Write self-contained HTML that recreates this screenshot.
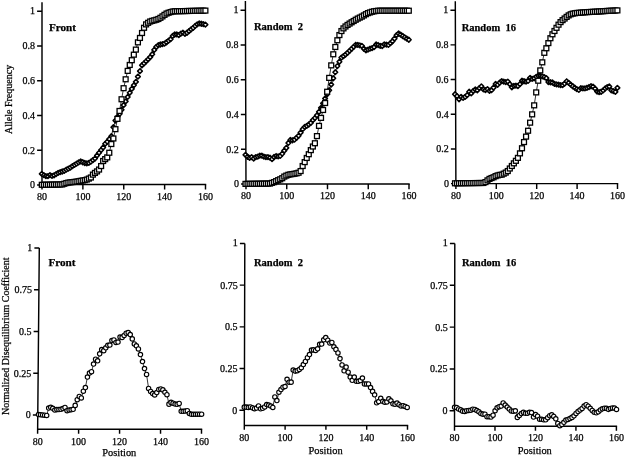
<!DOCTYPE html><html><head><meta charset="utf-8"><style>html,body{margin:0;padding:0;background:#fff;}svg{display:block;filter:grayscale(1);}text{font-family:"Liberation Serif",serif;fill:#000;stroke:#000;stroke-width:0.25px;}.t{font-size:10px;}.b{font-size:10.5px;font-weight:bold;}.p{font-size:10.4px;}</style></head><body>
<svg width="626" height="457" viewBox="0 0 626 457">
<g stroke="#000" stroke-width="1.45" fill="none" stroke-linecap="butt">
<path d="M42 2.2L42 189.6M42 184.5H206.2"/>
<path d="M37.1 185H42M37.1 150.26H42M37.1 115.52H42M37.1 80.78H42M37.1 46.04H42M37.1 11.3H42M82.88 184.5V189.6M123.75 184.5V189.6M164.62 184.5V189.6M205.5 184.5V189.6"/></g>
<text class="t" x="35" y="188.4" text-anchor="end">0</text>
<text class="t" x="35" y="153.66" text-anchor="end">0.2</text>
<text class="t" x="35" y="118.92" text-anchor="end">0.4</text>
<text class="t" x="35" y="84.18" text-anchor="end">0.6</text>
<text class="t" x="35" y="49.44" text-anchor="end">0.8</text>
<text class="t" x="35" y="13.9" text-anchor="end">1</text>
<text class="t" x="42" y="199.5" text-anchor="middle">80</text>
<text class="t" x="82.88" y="199.5" text-anchor="middle">100</text>
<text class="t" x="123.75" y="199.5" text-anchor="middle">120</text>
<text class="t" x="164.62" y="199.5" text-anchor="middle">140</text>
<text class="t" x="205.5" y="199.5" text-anchor="middle">160</text>
<text class="b" x="48.9" y="30.7" style="font-size:11.2px">Front</text>
<path fill="none" stroke="#000" stroke-width="0.8" d="M41.8 173.87 43.84 175.2 45.89 176.17 47.93 176.2 49.98 175.08 52.02 175.88 54.07 175.28 56.12 174.07 58.16 172.83 60.2 172.18 62.25 171.52 64.3 170.8 66.34 169.6 68.38 168.66 70.43 167.56 72.47 166.12 74.52 164.91 76.56 163.68 78.61 162.46 80.66 161.46 82.7 162.26 84.75 163.01 86.79 163.3 88.84 162.83 90.88 161.71 92.93 160.16 94.97 158.56 97.02 155.48 99.06 152.8 101.11 150.03 103.15 147.48 105.19 143.82 107.24 141.69 109.29 139.17 111.33 136.22 113.38 127.22 115.42 120.54 117.47 116.82 119.51 113.99 121.56 109.74 123.6 105.11 125.65 101.35 127.69 96.94 129.74 92.79 131.78 88.87 133.82 85.32 135.87 81.86 137.92 76.59 139.96 71.14 142 65.26 144.05 63.39 146.09 61.31 148.14 59.29 150.19 57.15 152.23 54.24 154.28 49.9 156.32 46.87 158.37 45.19 160.41 44.49 162.46 44.2 164.5 43.58 166.55 42.27 168.59 40.7 170.63 39.21 172.68 35.94 174.73 34.5 176.77 34.46 178.81 35.1 180.86 33.64 182.91 32.69 184.95 33.81 187 32.75 189.04 31.08 191.09 29.37 193.13 27.88 195.18 25.94 197.22 24.31 199.27 23.44 201.31 23.77 203.36 24.16 205.4 24.66"/>
<g fill="#fff" stroke="#000" stroke-width="1.55" stroke-linejoin="round"><path d="M41.8 171.52l2.35 2.35-2.35 2.35-2.35-2.35z"/><path d="M43.84 172.85l2.35 2.35-2.35 2.35-2.35-2.35z"/><path d="M45.89 173.82l2.35 2.35-2.35 2.35-2.35-2.35z"/><path d="M47.93 173.85l2.35 2.35-2.35 2.35-2.35-2.35z"/><path d="M49.98 172.73l2.35 2.35-2.35 2.35-2.35-2.35z"/><path d="M52.02 173.53l2.35 2.35-2.35 2.35-2.35-2.35z"/><path d="M54.07 172.93l2.35 2.35-2.35 2.35-2.35-2.35z"/><path d="M56.12 171.72l2.35 2.35-2.35 2.35-2.35-2.35z"/><path d="M58.16 170.48l2.35 2.35-2.35 2.35-2.35-2.35z"/><path d="M60.2 169.83l2.35 2.35-2.35 2.35-2.35-2.35z"/><path d="M62.25 169.17l2.35 2.35-2.35 2.35-2.35-2.35z"/><path d="M64.3 168.45l2.35 2.35-2.35 2.35-2.35-2.35z"/><path d="M66.34 167.25l2.35 2.35-2.35 2.35-2.35-2.35z"/><path d="M68.38 166.31l2.35 2.35-2.35 2.35-2.35-2.35z"/><path d="M70.43 165.21l2.35 2.35-2.35 2.35-2.35-2.35z"/><path d="M72.47 163.77l2.35 2.35-2.35 2.35-2.35-2.35z"/><path d="M74.52 162.56l2.35 2.35-2.35 2.35-2.35-2.35z"/><path d="M76.56 161.33l2.35 2.35-2.35 2.35-2.35-2.35z"/><path d="M78.61 160.11l2.35 2.35-2.35 2.35-2.35-2.35z"/><path d="M80.66 159.11l2.35 2.35-2.35 2.35-2.35-2.35z"/><path d="M82.7 159.91l2.35 2.35-2.35 2.35-2.35-2.35z"/><path d="M84.75 160.66l2.35 2.35-2.35 2.35-2.35-2.35z"/><path d="M86.79 160.95l2.35 2.35-2.35 2.35-2.35-2.35z"/><path d="M88.84 160.48l2.35 2.35-2.35 2.35-2.35-2.35z"/><path d="M90.88 159.36l2.35 2.35-2.35 2.35-2.35-2.35z"/><path d="M92.93 157.81l2.35 2.35-2.35 2.35-2.35-2.35z"/><path d="M94.97 156.21l2.35 2.35-2.35 2.35-2.35-2.35z"/><path d="M97.02 153.13l2.35 2.35-2.35 2.35-2.35-2.35z"/><path d="M99.06 150.45l2.35 2.35-2.35 2.35-2.35-2.35z"/><path d="M101.11 147.68l2.35 2.35-2.35 2.35-2.35-2.35z"/><path d="M103.15 145.13l2.35 2.35-2.35 2.35-2.35-2.35z"/><path d="M105.19 141.47l2.35 2.35-2.35 2.35-2.35-2.35z"/><path d="M107.24 139.34l2.35 2.35-2.35 2.35-2.35-2.35z"/><path d="M109.29 136.82l2.35 2.35-2.35 2.35-2.35-2.35z"/><path d="M111.33 133.87l2.35 2.35-2.35 2.35-2.35-2.35z"/><path d="M113.38 124.87l2.35 2.35-2.35 2.35-2.35-2.35z"/><path d="M115.42 118.19l2.35 2.35-2.35 2.35-2.35-2.35z"/><path d="M117.47 114.47l2.35 2.35-2.35 2.35-2.35-2.35z"/><path d="M119.51 111.64l2.35 2.35-2.35 2.35-2.35-2.35z"/><path d="M121.56 107.39l2.35 2.35-2.35 2.35-2.35-2.35z"/><path d="M123.6 102.76l2.35 2.35-2.35 2.35-2.35-2.35z"/><path d="M125.65 99l2.35 2.35-2.35 2.35-2.35-2.35z"/><path d="M127.69 94.59l2.35 2.35-2.35 2.35-2.35-2.35z"/><path d="M129.74 90.44l2.35 2.35-2.35 2.35-2.35-2.35z"/><path d="M131.78 86.52l2.35 2.35-2.35 2.35-2.35-2.35z"/><path d="M133.82 82.97l2.35 2.35-2.35 2.35-2.35-2.35z"/><path d="M135.87 79.51l2.35 2.35-2.35 2.35-2.35-2.35z"/><path d="M137.92 74.24l2.35 2.35-2.35 2.35-2.35-2.35z"/><path d="M139.96 68.79l2.35 2.35-2.35 2.35-2.35-2.35z"/><path d="M142 62.91l2.35 2.35-2.35 2.35-2.35-2.35z"/><path d="M144.05 61.04l2.35 2.35-2.35 2.35-2.35-2.35z"/><path d="M146.09 58.96l2.35 2.35-2.35 2.35-2.35-2.35z"/><path d="M148.14 56.94l2.35 2.35-2.35 2.35-2.35-2.35z"/><path d="M150.19 54.8l2.35 2.35-2.35 2.35-2.35-2.35z"/><path d="M152.23 51.89l2.35 2.35-2.35 2.35-2.35-2.35z"/><path d="M154.28 47.55l2.35 2.35-2.35 2.35-2.35-2.35z"/><path d="M156.32 44.52l2.35 2.35-2.35 2.35-2.35-2.35z"/><path d="M158.37 42.84l2.35 2.35-2.35 2.35-2.35-2.35z"/><path d="M160.41 42.14l2.35 2.35-2.35 2.35-2.35-2.35z"/><path d="M162.46 41.85l2.35 2.35-2.35 2.35-2.35-2.35z"/><path d="M164.5 41.23l2.35 2.35-2.35 2.35-2.35-2.35z"/><path d="M166.55 39.92l2.35 2.35-2.35 2.35-2.35-2.35z"/><path d="M168.59 38.35l2.35 2.35-2.35 2.35-2.35-2.35z"/><path d="M170.63 36.86l2.35 2.35-2.35 2.35-2.35-2.35z"/><path d="M172.68 33.59l2.35 2.35-2.35 2.35-2.35-2.35z"/><path d="M174.73 32.15l2.35 2.35-2.35 2.35-2.35-2.35z"/><path d="M176.77 32.11l2.35 2.35-2.35 2.35-2.35-2.35z"/><path d="M178.81 32.75l2.35 2.35-2.35 2.35-2.35-2.35z"/><path d="M180.86 31.29l2.35 2.35-2.35 2.35-2.35-2.35z"/><path d="M182.91 30.34l2.35 2.35-2.35 2.35-2.35-2.35z"/><path d="M184.95 31.46l2.35 2.35-2.35 2.35-2.35-2.35z"/><path d="M187 30.4l2.35 2.35-2.35 2.35-2.35-2.35z"/><path d="M189.04 28.73l2.35 2.35-2.35 2.35-2.35-2.35z"/><path d="M191.09 27.02l2.35 2.35-2.35 2.35-2.35-2.35z"/><path d="M193.13 25.53l2.35 2.35-2.35 2.35-2.35-2.35z"/><path d="M195.18 23.59l2.35 2.35-2.35 2.35-2.35-2.35z"/><path d="M197.22 21.96l2.35 2.35-2.35 2.35-2.35-2.35z"/><path d="M199.27 21.09l2.35 2.35-2.35 2.35-2.35-2.35z"/><path d="M201.31 21.42l2.35 2.35-2.35 2.35-2.35-2.35z"/><path d="M203.36 21.81l2.35 2.35-2.35 2.35-2.35-2.35z"/><path d="M205.4 22.31l2.35 2.35-2.35 2.35-2.35-2.35z"/></g>
<path fill="none" stroke="#000" stroke-width="0.8" d="M41.8 184.8 43.84 184.77 45.89 184.73 47.93 184.7 49.98 184.66 52.02 184.63 54.07 184.59 56.12 184.56 58.16 184.52 60.2 184.49 62.25 184.45 64.3 183.76 66.34 183.06 68.38 182.6 70.43 182.35 72.47 182.11 74.52 181.87 76.56 181.6 78.61 181.21 80.66 180.83 82.7 180.47 84.75 180.14 86.79 179.56 88.84 178.58 90.88 177.51 92.93 174.62 94.97 172.92 97.02 171.41 99.06 169.55 101.11 166.06 103.15 161 105.19 159.12 107.24 157.39 109.29 152.74 111.33 144.03 113.38 138.48 115.42 129.17 117.47 118.87 119.51 110.96 121.56 99.26 123.6 88.21 125.65 79.29 127.69 70.89 129.74 64.95 131.78 60.2 133.82 54.68 135.87 49.6 137.92 42.36 139.96 37.95 142 32.99 144.05 27.78 146.09 24.39 148.14 22.81 150.19 21.51 152.23 20.84 154.28 20.33 156.32 19.75 158.37 18.99 160.41 17.81 162.46 16.38 164.5 14.85 166.55 13.52 168.59 12.71 170.63 12.07 172.68 11.52 174.73 11.27 176.77 11.23 178.81 11.18 180.86 11.14 182.91 11.1 184.95 11.05 187 11.01 189.04 10.96 191.09 10.92 193.13 10.87 195.18 10.83 197.22 10.78 199.27 10.74 201.31 10.69 203.36 10.65 205.4 10.61"/>
<g fill="#fff" stroke="#000" stroke-width="1.3"><rect x="39.35" y="182.35" width="4.9" height="4.9"/><rect x="41.39" y="182.32" width="4.9" height="4.9"/><rect x="43.44" y="182.28" width="4.9" height="4.9"/><rect x="45.48" y="182.25" width="4.9" height="4.9"/><rect x="47.53" y="182.21" width="4.9" height="4.9"/><rect x="49.57" y="182.18" width="4.9" height="4.9"/><rect x="51.62" y="182.14" width="4.9" height="4.9"/><rect x="53.66" y="182.11" width="4.9" height="4.9"/><rect x="55.71" y="182.07" width="4.9" height="4.9"/><rect x="57.75" y="182.04" width="4.9" height="4.9"/><rect x="59.8" y="182" width="4.9" height="4.9"/><rect x="61.84" y="181.31" width="4.9" height="4.9"/><rect x="63.89" y="180.62" width="4.9" height="4.9"/><rect x="65.93" y="180.15" width="4.9" height="4.9"/><rect x="67.98" y="179.9" width="4.9" height="4.9"/><rect x="70.02" y="179.66" width="4.9" height="4.9"/><rect x="72.07" y="179.42" width="4.9" height="4.9"/><rect x="74.11" y="179.15" width="4.9" height="4.9"/><rect x="76.16" y="178.76" width="4.9" height="4.9"/><rect x="78.2" y="178.38" width="4.9" height="4.9"/><rect x="80.25" y="178.02" width="4.9" height="4.9"/><rect x="82.3" y="177.69" width="4.9" height="4.9"/><rect x="84.34" y="177.11" width="4.9" height="4.9"/><rect x="86.39" y="176.13" width="4.9" height="4.9"/><rect x="88.43" y="175.06" width="4.9" height="4.9"/><rect x="90.48" y="172.17" width="4.9" height="4.9"/><rect x="92.52" y="170.47" width="4.9" height="4.9"/><rect x="94.57" y="168.96" width="4.9" height="4.9"/><rect x="96.61" y="167.1" width="4.9" height="4.9"/><rect x="98.66" y="163.61" width="4.9" height="4.9"/><rect x="100.7" y="158.55" width="4.9" height="4.9"/><rect x="102.74" y="156.67" width="4.9" height="4.9"/><rect x="104.79" y="154.94" width="4.9" height="4.9"/><rect x="106.84" y="150.29" width="4.9" height="4.9"/><rect x="108.88" y="141.58" width="4.9" height="4.9"/><rect x="110.93" y="136.03" width="4.9" height="4.9"/><rect x="112.97" y="126.72" width="4.9" height="4.9"/><rect x="115.02" y="116.42" width="4.9" height="4.9"/><rect x="117.06" y="108.51" width="4.9" height="4.9"/><rect x="119.11" y="96.81" width="4.9" height="4.9"/><rect x="121.15" y="85.76" width="4.9" height="4.9"/><rect x="123.2" y="76.84" width="4.9" height="4.9"/><rect x="125.24" y="68.44" width="4.9" height="4.9"/><rect x="127.29" y="62.5" width="4.9" height="4.9"/><rect x="129.33" y="57.75" width="4.9" height="4.9"/><rect x="131.38" y="52.23" width="4.9" height="4.9"/><rect x="133.42" y="47.15" width="4.9" height="4.9"/><rect x="135.47" y="39.91" width="4.9" height="4.9"/><rect x="137.51" y="35.5" width="4.9" height="4.9"/><rect x="139.56" y="30.54" width="4.9" height="4.9"/><rect x="141.6" y="25.33" width="4.9" height="4.9"/><rect x="143.65" y="21.94" width="4.9" height="4.9"/><rect x="145.69" y="20.36" width="4.9" height="4.9"/><rect x="147.74" y="19.06" width="4.9" height="4.9"/><rect x="149.78" y="18.39" width="4.9" height="4.9"/><rect x="151.83" y="17.88" width="4.9" height="4.9"/><rect x="153.87" y="17.3" width="4.9" height="4.9"/><rect x="155.92" y="16.54" width="4.9" height="4.9"/><rect x="157.96" y="15.36" width="4.9" height="4.9"/><rect x="160.01" y="13.93" width="4.9" height="4.9"/><rect x="162.05" y="12.4" width="4.9" height="4.9"/><rect x="164.1" y="11.07" width="4.9" height="4.9"/><rect x="166.14" y="10.26" width="4.9" height="4.9"/><rect x="168.19" y="9.62" width="4.9" height="4.9"/><rect x="170.23" y="9.07" width="4.9" height="4.9"/><rect x="172.28" y="8.82" width="4.9" height="4.9"/><rect x="174.32" y="8.78" width="4.9" height="4.9"/><rect x="176.37" y="8.73" width="4.9" height="4.9"/><rect x="178.41" y="8.69" width="4.9" height="4.9"/><rect x="180.46" y="8.65" width="4.9" height="4.9"/><rect x="182.5" y="8.6" width="4.9" height="4.9"/><rect x="184.55" y="8.56" width="4.9" height="4.9"/><rect x="186.59" y="8.51" width="4.9" height="4.9"/><rect x="188.64" y="8.47" width="4.9" height="4.9"/><rect x="190.68" y="8.42" width="4.9" height="4.9"/><rect x="192.73" y="8.38" width="4.9" height="4.9"/><rect x="194.77" y="8.33" width="4.9" height="4.9"/><rect x="196.82" y="8.29" width="4.9" height="4.9"/><rect x="198.86" y="8.24" width="4.9" height="4.9"/><rect x="200.91" y="8.2" width="4.9" height="4.9"/><rect x="202.95" y="8.16" width="4.9" height="4.9"/></g>
<g stroke="#000" stroke-width="1.45" fill="none" stroke-linecap="butt">
<path d="M245.4 1.1L246 189.2M245.98 184H409.7"/>
<path d="M241.08 184H245.98M240.97 149.24H245.87M240.86 114.48H245.76M240.75 79.72H245.65M240.64 44.96H245.54M240.53 10.2H245.43M286.74 184V189.2M327.49 184V189.2M368.25 184V189.2M409 184V189.2"/></g>
<text class="t" x="238.98" y="187.4" text-anchor="end">0</text>
<text class="t" x="238.87" y="152.64" text-anchor="end">0.2</text>
<text class="t" x="238.76" y="117.88" text-anchor="end">0.4</text>
<text class="t" x="238.65" y="83.12" text-anchor="end">0.6</text>
<text class="t" x="238.54" y="48.36" text-anchor="end">0.8</text>
<text class="t" x="238.43" y="12.8" text-anchor="end">1</text>
<text class="t" x="245.98" y="199" text-anchor="middle">80</text>
<text class="t" x="286.74" y="199" text-anchor="middle">100</text>
<text class="t" x="327.49" y="199" text-anchor="middle">120</text>
<text class="t" x="368.25" y="199" text-anchor="middle">140</text>
<text class="t" x="409" y="199" text-anchor="middle">160</text>
<text class="b" x="254" y="30">Random  2</text>
<path fill="none" stroke="#000" stroke-width="0.8" d="M245.5 154.89 247.54 156.74 249.58 157.91 251.62 157.12 253.66 158.54 255.71 157.12 257.75 156.55 259.79 155.6 261.83 155.6 263.87 156.58 265.91 157.2 267.95 157.11 270 157.68 272.04 159.09 274.08 157 276.12 156.03 278.16 156.37 280.2 155.93 282.24 153.68 284.28 150.64 286.32 147.88 288.37 142.95 290.41 139.95 292.45 140.28 294.49 139.7 296.53 137.81 298.57 135.81 300.61 132.61 302.66 129.18 304.7 126.94 306.74 125.91 308.78 124.48 310.82 122.84 312.86 120.17 314.9 118.03 316.94 115.36 318.99 111.88 321.03 107.86 323.07 103.35 325.11 98.5 327.15 94.25 329.19 90.26 331.23 84.5 333.27 78.24 335.31 72.2 337.36 66.05 339.4 61.73 341.44 57.62 343.48 56.08 345.52 54.55 347.56 52.82 349.6 50.82 351.64 48.81 353.69 46.8 355.73 44.79 357.77 44.93 359.81 45.3 361.85 45.92 363.89 48.76 365.93 50.23 367.98 49.57 370.02 48.69 372.06 48.15 374.1 47.11 376.14 44.51 378.18 45.03 380.22 45.8 382.26 46.01 384.31 44.39 386.35 44.68 388.39 44.94 390.43 43.2 392.47 41.24 394.51 38.6 396.55 35.21 398.59 33.51 400.63 34.59 402.68 36.01 404.72 37.3 406.76 38.53 408.8 39.73"/>
<g fill="#fff" stroke="#000" stroke-width="1.55" stroke-linejoin="round"><path d="M245.5 152.54l2.35 2.35-2.35 2.35-2.35-2.35z"/><path d="M247.54 154.39l2.35 2.35-2.35 2.35-2.35-2.35z"/><path d="M249.58 155.56l2.35 2.35-2.35 2.35-2.35-2.35z"/><path d="M251.62 154.77l2.35 2.35-2.35 2.35-2.35-2.35z"/><path d="M253.66 156.19l2.35 2.35-2.35 2.35-2.35-2.35z"/><path d="M255.71 154.77l2.35 2.35-2.35 2.35-2.35-2.35z"/><path d="M257.75 154.2l2.35 2.35-2.35 2.35-2.35-2.35z"/><path d="M259.79 153.25l2.35 2.35-2.35 2.35-2.35-2.35z"/><path d="M261.83 153.25l2.35 2.35-2.35 2.35-2.35-2.35z"/><path d="M263.87 154.23l2.35 2.35-2.35 2.35-2.35-2.35z"/><path d="M265.91 154.85l2.35 2.35-2.35 2.35-2.35-2.35z"/><path d="M267.95 154.76l2.35 2.35-2.35 2.35-2.35-2.35z"/><path d="M270 155.33l2.35 2.35-2.35 2.35-2.35-2.35z"/><path d="M272.04 156.74l2.35 2.35-2.35 2.35-2.35-2.35z"/><path d="M274.08 154.65l2.35 2.35-2.35 2.35-2.35-2.35z"/><path d="M276.12 153.68l2.35 2.35-2.35 2.35-2.35-2.35z"/><path d="M278.16 154.02l2.35 2.35-2.35 2.35-2.35-2.35z"/><path d="M280.2 153.58l2.35 2.35-2.35 2.35-2.35-2.35z"/><path d="M282.24 151.33l2.35 2.35-2.35 2.35-2.35-2.35z"/><path d="M284.28 148.29l2.35 2.35-2.35 2.35-2.35-2.35z"/><path d="M286.32 145.53l2.35 2.35-2.35 2.35-2.35-2.35z"/><path d="M288.37 140.6l2.35 2.35-2.35 2.35-2.35-2.35z"/><path d="M290.41 137.6l2.35 2.35-2.35 2.35-2.35-2.35z"/><path d="M292.45 137.93l2.35 2.35-2.35 2.35-2.35-2.35z"/><path d="M294.49 137.35l2.35 2.35-2.35 2.35-2.35-2.35z"/><path d="M296.53 135.46l2.35 2.35-2.35 2.35-2.35-2.35z"/><path d="M298.57 133.46l2.35 2.35-2.35 2.35-2.35-2.35z"/><path d="M300.61 130.26l2.35 2.35-2.35 2.35-2.35-2.35z"/><path d="M302.66 126.83l2.35 2.35-2.35 2.35-2.35-2.35z"/><path d="M304.7 124.59l2.35 2.35-2.35 2.35-2.35-2.35z"/><path d="M306.74 123.56l2.35 2.35-2.35 2.35-2.35-2.35z"/><path d="M308.78 122.13l2.35 2.35-2.35 2.35-2.35-2.35z"/><path d="M310.82 120.49l2.35 2.35-2.35 2.35-2.35-2.35z"/><path d="M312.86 117.82l2.35 2.35-2.35 2.35-2.35-2.35z"/><path d="M314.9 115.68l2.35 2.35-2.35 2.35-2.35-2.35z"/><path d="M316.94 113.01l2.35 2.35-2.35 2.35-2.35-2.35z"/><path d="M318.99 109.53l2.35 2.35-2.35 2.35-2.35-2.35z"/><path d="M321.03 105.51l2.35 2.35-2.35 2.35-2.35-2.35z"/><path d="M323.07 101l2.35 2.35-2.35 2.35-2.35-2.35z"/><path d="M325.11 96.15l2.35 2.35-2.35 2.35-2.35-2.35z"/><path d="M327.15 91.9l2.35 2.35-2.35 2.35-2.35-2.35z"/><path d="M329.19 87.91l2.35 2.35-2.35 2.35-2.35-2.35z"/><path d="M331.23 82.15l2.35 2.35-2.35 2.35-2.35-2.35z"/><path d="M333.27 75.89l2.35 2.35-2.35 2.35-2.35-2.35z"/><path d="M335.31 69.85l2.35 2.35-2.35 2.35-2.35-2.35z"/><path d="M337.36 63.7l2.35 2.35-2.35 2.35-2.35-2.35z"/><path d="M339.4 59.38l2.35 2.35-2.35 2.35-2.35-2.35z"/><path d="M341.44 55.27l2.35 2.35-2.35 2.35-2.35-2.35z"/><path d="M343.48 53.73l2.35 2.35-2.35 2.35-2.35-2.35z"/><path d="M345.52 52.2l2.35 2.35-2.35 2.35-2.35-2.35z"/><path d="M347.56 50.47l2.35 2.35-2.35 2.35-2.35-2.35z"/><path d="M349.6 48.47l2.35 2.35-2.35 2.35-2.35-2.35z"/><path d="M351.64 46.46l2.35 2.35-2.35 2.35-2.35-2.35z"/><path d="M353.69 44.45l2.35 2.35-2.35 2.35-2.35-2.35z"/><path d="M355.73 42.44l2.35 2.35-2.35 2.35-2.35-2.35z"/><path d="M357.77 42.58l2.35 2.35-2.35 2.35-2.35-2.35z"/><path d="M359.81 42.95l2.35 2.35-2.35 2.35-2.35-2.35z"/><path d="M361.85 43.57l2.35 2.35-2.35 2.35-2.35-2.35z"/><path d="M363.89 46.41l2.35 2.35-2.35 2.35-2.35-2.35z"/><path d="M365.93 47.88l2.35 2.35-2.35 2.35-2.35-2.35z"/><path d="M367.98 47.22l2.35 2.35-2.35 2.35-2.35-2.35z"/><path d="M370.02 46.34l2.35 2.35-2.35 2.35-2.35-2.35z"/><path d="M372.06 45.8l2.35 2.35-2.35 2.35-2.35-2.35z"/><path d="M374.1 44.76l2.35 2.35-2.35 2.35-2.35-2.35z"/><path d="M376.14 42.16l2.35 2.35-2.35 2.35-2.35-2.35z"/><path d="M378.18 42.68l2.35 2.35-2.35 2.35-2.35-2.35z"/><path d="M380.22 43.45l2.35 2.35-2.35 2.35-2.35-2.35z"/><path d="M382.26 43.66l2.35 2.35-2.35 2.35-2.35-2.35z"/><path d="M384.31 42.04l2.35 2.35-2.35 2.35-2.35-2.35z"/><path d="M386.35 42.33l2.35 2.35-2.35 2.35-2.35-2.35z"/><path d="M388.39 42.59l2.35 2.35-2.35 2.35-2.35-2.35z"/><path d="M390.43 40.85l2.35 2.35-2.35 2.35-2.35-2.35z"/><path d="M392.47 38.89l2.35 2.35-2.35 2.35-2.35-2.35z"/><path d="M394.51 36.25l2.35 2.35-2.35 2.35-2.35-2.35z"/><path d="M396.55 32.86l2.35 2.35-2.35 2.35-2.35-2.35z"/><path d="M398.59 31.16l2.35 2.35-2.35 2.35-2.35-2.35z"/><path d="M400.63 32.24l2.35 2.35-2.35 2.35-2.35-2.35z"/><path d="M402.68 33.66l2.35 2.35-2.35 2.35-2.35-2.35z"/><path d="M404.72 34.95l2.35 2.35-2.35 2.35-2.35-2.35z"/><path d="M406.76 36.18l2.35 2.35-2.35 2.35-2.35-2.35z"/><path d="M408.8 37.38l2.35 2.35-2.35 2.35-2.35-2.35z"/></g>
<path fill="none" stroke="#000" stroke-width="0.8" d="M245.5 183.9 247.54 183.87 249.58 183.84 251.62 183.81 253.66 183.78 255.71 183.76 257.75 183.73 259.79 183.7 261.83 183.67 263.87 183.64 265.91 183.61 267.95 183.58 270 183.55 272.04 182.86 274.08 182.16 276.12 181.17 278.16 180.18 280.2 179.3 282.24 178.21 284.28 176.59 286.32 175.6 288.37 174.78 290.41 174.35 292.45 174.06 294.49 173.74 296.53 173.33 298.57 172.73 300.61 171.05 302.66 166.01 304.7 162.1 306.74 157.96 308.78 154.22 310.82 150.12 312.86 146.52 314.9 143.25 316.94 136.09 318.99 125.88 321.03 117.89 323.07 110 325.11 103.01 327.15 91.74 329.19 77.89 331.23 65.37 333.27 54.28 335.31 46.99 337.36 40.27 339.4 35.05 341.44 31.04 343.48 28.37 345.52 26.48 347.56 24.93 349.6 23.57 351.64 22.27 353.69 21.01 355.73 19.76 357.77 18.58 359.81 17.58 361.85 16.58 363.89 15.42 365.93 14.19 367.98 13.12 370.02 12.44 372.06 11.76 374.1 11.28 376.14 11 378.18 10.72 380.22 10.72 382.26 10.72 384.31 10.72 386.35 10.72 388.39 10.72 390.43 10.72 392.47 10.72 394.51 10.72 396.55 10.72 398.59 10.72 400.63 10.72 402.68 10.72 404.72 10.72 406.76 10.72 408.8 10.72"/>
<g fill="#fff" stroke="#000" stroke-width="1.3"><rect x="243.05" y="181.45" width="4.9" height="4.9"/><rect x="245.09" y="181.42" width="4.9" height="4.9"/><rect x="247.13" y="181.39" width="4.9" height="4.9"/><rect x="249.17" y="181.36" width="4.9" height="4.9"/><rect x="251.22" y="181.33" width="4.9" height="4.9"/><rect x="253.26" y="181.31" width="4.9" height="4.9"/><rect x="255.3" y="181.28" width="4.9" height="4.9"/><rect x="257.34" y="181.25" width="4.9" height="4.9"/><rect x="259.38" y="181.22" width="4.9" height="4.9"/><rect x="261.42" y="181.19" width="4.9" height="4.9"/><rect x="263.46" y="181.16" width="4.9" height="4.9"/><rect x="265.5" y="181.13" width="4.9" height="4.9"/><rect x="267.55" y="181.1" width="4.9" height="4.9"/><rect x="269.59" y="180.41" width="4.9" height="4.9"/><rect x="271.63" y="179.71" width="4.9" height="4.9"/><rect x="273.67" y="178.72" width="4.9" height="4.9"/><rect x="275.71" y="177.73" width="4.9" height="4.9"/><rect x="277.75" y="176.85" width="4.9" height="4.9"/><rect x="279.79" y="175.76" width="4.9" height="4.9"/><rect x="281.83" y="174.14" width="4.9" height="4.9"/><rect x="283.88" y="173.15" width="4.9" height="4.9"/><rect x="285.92" y="172.33" width="4.9" height="4.9"/><rect x="287.96" y="171.9" width="4.9" height="4.9"/><rect x="290" y="171.61" width="4.9" height="4.9"/><rect x="292.04" y="171.29" width="4.9" height="4.9"/><rect x="294.08" y="170.88" width="4.9" height="4.9"/><rect x="296.12" y="170.28" width="4.9" height="4.9"/><rect x="298.16" y="168.6" width="4.9" height="4.9"/><rect x="300.21" y="163.56" width="4.9" height="4.9"/><rect x="302.25" y="159.65" width="4.9" height="4.9"/><rect x="304.29" y="155.51" width="4.9" height="4.9"/><rect x="306.33" y="151.77" width="4.9" height="4.9"/><rect x="308.37" y="147.67" width="4.9" height="4.9"/><rect x="310.41" y="144.07" width="4.9" height="4.9"/><rect x="312.45" y="140.8" width="4.9" height="4.9"/><rect x="314.49" y="133.64" width="4.9" height="4.9"/><rect x="316.54" y="123.43" width="4.9" height="4.9"/><rect x="318.58" y="115.44" width="4.9" height="4.9"/><rect x="320.62" y="107.55" width="4.9" height="4.9"/><rect x="322.66" y="100.56" width="4.9" height="4.9"/><rect x="324.7" y="89.29" width="4.9" height="4.9"/><rect x="326.74" y="75.44" width="4.9" height="4.9"/><rect x="328.78" y="62.92" width="4.9" height="4.9"/><rect x="330.82" y="51.83" width="4.9" height="4.9"/><rect x="332.87" y="44.54" width="4.9" height="4.9"/><rect x="334.91" y="37.82" width="4.9" height="4.9"/><rect x="336.95" y="32.6" width="4.9" height="4.9"/><rect x="338.99" y="28.59" width="4.9" height="4.9"/><rect x="341.03" y="25.92" width="4.9" height="4.9"/><rect x="343.07" y="24.03" width="4.9" height="4.9"/><rect x="345.11" y="22.48" width="4.9" height="4.9"/><rect x="347.15" y="21.12" width="4.9" height="4.9"/><rect x="349.19" y="19.82" width="4.9" height="4.9"/><rect x="351.24" y="18.56" width="4.9" height="4.9"/><rect x="353.28" y="17.31" width="4.9" height="4.9"/><rect x="355.32" y="16.13" width="4.9" height="4.9"/><rect x="357.36" y="15.13" width="4.9" height="4.9"/><rect x="359.4" y="14.13" width="4.9" height="4.9"/><rect x="361.44" y="12.97" width="4.9" height="4.9"/><rect x="363.48" y="11.74" width="4.9" height="4.9"/><rect x="365.53" y="10.67" width="4.9" height="4.9"/><rect x="367.57" y="9.99" width="4.9" height="4.9"/><rect x="369.61" y="9.31" width="4.9" height="4.9"/><rect x="371.65" y="8.83" width="4.9" height="4.9"/><rect x="373.69" y="8.55" width="4.9" height="4.9"/><rect x="375.73" y="8.27" width="4.9" height="4.9"/><rect x="377.77" y="8.27" width="4.9" height="4.9"/><rect x="379.81" y="8.27" width="4.9" height="4.9"/><rect x="381.86" y="8.27" width="4.9" height="4.9"/><rect x="383.9" y="8.27" width="4.9" height="4.9"/><rect x="385.94" y="8.27" width="4.9" height="4.9"/><rect x="387.98" y="8.27" width="4.9" height="4.9"/><rect x="390.02" y="8.27" width="4.9" height="4.9"/><rect x="392.06" y="8.27" width="4.9" height="4.9"/><rect x="394.1" y="8.27" width="4.9" height="4.9"/><rect x="396.14" y="8.27" width="4.9" height="4.9"/><rect x="398.19" y="8.27" width="4.9" height="4.9"/><rect x="400.23" y="8.27" width="4.9" height="4.9"/><rect x="402.27" y="8.27" width="4.9" height="4.9"/><rect x="404.31" y="8.27" width="4.9" height="4.9"/><rect x="406.35" y="8.27" width="4.9" height="4.9"/></g>
<g stroke="#000" stroke-width="1.45" fill="none" stroke-linecap="butt">
<path d="M455.3 1.3L455.9 189M455.88 183.6H618.2"/>
<path d="M450.98 183.6H455.88M450.87 148.92H455.77M450.76 114.24H455.66M450.65 79.56H455.55M450.54 44.88H455.44M450.43 10.2H455.33M496.29 183.6V189M536.69 183.6V189M577.1 183.6V189M617.5 183.6V189"/></g>
<text class="t" x="448.88" y="187" text-anchor="end">0</text>
<text class="t" x="448.77" y="152.32" text-anchor="end">0.2</text>
<text class="t" x="448.66" y="117.64" text-anchor="end">0.4</text>
<text class="t" x="448.55" y="82.96" text-anchor="end">0.6</text>
<text class="t" x="448.44" y="48.28" text-anchor="end">0.8</text>
<text class="t" x="448.33" y="12.8" text-anchor="end">1</text>
<text class="t" x="455.88" y="198.6" text-anchor="middle">80</text>
<text class="t" x="496.29" y="198.6" text-anchor="middle">100</text>
<text class="t" x="536.69" y="198.6" text-anchor="middle">120</text>
<text class="t" x="577.1" y="198.6" text-anchor="middle">140</text>
<text class="t" x="617.5" y="198.6" text-anchor="middle">160</text>
<text class="b" x="461.7" y="30.5">Random  16</text>
<path fill="none" stroke="#000" stroke-width="0.8" d="M455 94.26 457.03 96.14 459.06 99.3 461.09 96.85 463.12 97.95 465.15 96.85 467.18 95.12 469.21 91.69 471.24 93.36 473.27 90.96 475.3 89.52 477.33 90.28 479.36 88.08 481.39 86.3 483.42 89.42 485.45 90.14 487.48 89.15 489.51 90.9 491.54 90.22 493.57 87.62 495.6 83.95 497.63 84.81 499.66 82.7 501.69 81.15 503.72 81.62 505.75 82.07 507.78 81.56 509.81 84.1 511.84 87.27 513.87 85.92 515.9 85.61 517.93 86.04 519.96 84.17 521.99 80.77 524.02 81.25 526.05 81.56 528.08 80.95 530.11 77.9 532.14 78.92 534.17 78.32 536.2 76.81 538.23 75.69 540.26 75.65 542.29 76.34 544.32 77.07 546.35 78.08 548.38 81.98 550.41 82.24 552.44 82.5 554.47 83.8 556.5 84.3 558.53 84.62 560.56 85.09 562.59 85.09 564.62 83.67 566.65 81.29 568.68 82.89 570.71 84.57 572.74 86.23 574.77 87.71 576.8 89.14 578.83 89.93 580.86 88.2 582.89 88.39 584.92 88.41 586.95 87.79 588.98 87.04 591.01 86.26 593.04 86.57 595.07 88.55 597.1 91.54 599.13 92.17 601.16 91.74 603.19 90.43 605.22 88.45 607.25 87.1 609.28 86.51 611.31 90.28 613.34 91.06 615.37 91.84 617.4 87.86"/>
<g fill="#fff" stroke="#000" stroke-width="1.55" stroke-linejoin="round"><path d="M455 91.91l2.35 2.35-2.35 2.35-2.35-2.35z"/><path d="M457.03 93.79l2.35 2.35-2.35 2.35-2.35-2.35z"/><path d="M459.06 96.95l2.35 2.35-2.35 2.35-2.35-2.35z"/><path d="M461.09 94.5l2.35 2.35-2.35 2.35-2.35-2.35z"/><path d="M463.12 95.6l2.35 2.35-2.35 2.35-2.35-2.35z"/><path d="M465.15 94.5l2.35 2.35-2.35 2.35-2.35-2.35z"/><path d="M467.18 92.77l2.35 2.35-2.35 2.35-2.35-2.35z"/><path d="M469.21 89.34l2.35 2.35-2.35 2.35-2.35-2.35z"/><path d="M471.24 91.01l2.35 2.35-2.35 2.35-2.35-2.35z"/><path d="M473.27 88.61l2.35 2.35-2.35 2.35-2.35-2.35z"/><path d="M475.3 87.17l2.35 2.35-2.35 2.35-2.35-2.35z"/><path d="M477.33 87.93l2.35 2.35-2.35 2.35-2.35-2.35z"/><path d="M479.36 85.73l2.35 2.35-2.35 2.35-2.35-2.35z"/><path d="M481.39 83.95l2.35 2.35-2.35 2.35-2.35-2.35z"/><path d="M483.42 87.07l2.35 2.35-2.35 2.35-2.35-2.35z"/><path d="M485.45 87.79l2.35 2.35-2.35 2.35-2.35-2.35z"/><path d="M487.48 86.8l2.35 2.35-2.35 2.35-2.35-2.35z"/><path d="M489.51 88.55l2.35 2.35-2.35 2.35-2.35-2.35z"/><path d="M491.54 87.87l2.35 2.35-2.35 2.35-2.35-2.35z"/><path d="M493.57 85.27l2.35 2.35-2.35 2.35-2.35-2.35z"/><path d="M495.6 81.6l2.35 2.35-2.35 2.35-2.35-2.35z"/><path d="M497.63 82.46l2.35 2.35-2.35 2.35-2.35-2.35z"/><path d="M499.66 80.35l2.35 2.35-2.35 2.35-2.35-2.35z"/><path d="M501.69 78.8l2.35 2.35-2.35 2.35-2.35-2.35z"/><path d="M503.72 79.27l2.35 2.35-2.35 2.35-2.35-2.35z"/><path d="M505.75 79.72l2.35 2.35-2.35 2.35-2.35-2.35z"/><path d="M507.78 79.21l2.35 2.35-2.35 2.35-2.35-2.35z"/><path d="M509.81 81.75l2.35 2.35-2.35 2.35-2.35-2.35z"/><path d="M511.84 84.92l2.35 2.35-2.35 2.35-2.35-2.35z"/><path d="M513.87 83.57l2.35 2.35-2.35 2.35-2.35-2.35z"/><path d="M515.9 83.26l2.35 2.35-2.35 2.35-2.35-2.35z"/><path d="M517.93 83.69l2.35 2.35-2.35 2.35-2.35-2.35z"/><path d="M519.96 81.82l2.35 2.35-2.35 2.35-2.35-2.35z"/><path d="M521.99 78.42l2.35 2.35-2.35 2.35-2.35-2.35z"/><path d="M524.02 78.9l2.35 2.35-2.35 2.35-2.35-2.35z"/><path d="M526.05 79.21l2.35 2.35-2.35 2.35-2.35-2.35z"/><path d="M528.08 78.6l2.35 2.35-2.35 2.35-2.35-2.35z"/><path d="M530.11 75.55l2.35 2.35-2.35 2.35-2.35-2.35z"/><path d="M532.14 76.57l2.35 2.35-2.35 2.35-2.35-2.35z"/><path d="M534.17 75.97l2.35 2.35-2.35 2.35-2.35-2.35z"/><path d="M536.2 74.46l2.35 2.35-2.35 2.35-2.35-2.35z"/><path d="M538.23 73.34l2.35 2.35-2.35 2.35-2.35-2.35z"/><path d="M540.26 73.3l2.35 2.35-2.35 2.35-2.35-2.35z"/><path d="M542.29 73.99l2.35 2.35-2.35 2.35-2.35-2.35z"/><path d="M544.32 74.72l2.35 2.35-2.35 2.35-2.35-2.35z"/><path d="M546.35 75.73l2.35 2.35-2.35 2.35-2.35-2.35z"/><path d="M548.38 79.63l2.35 2.35-2.35 2.35-2.35-2.35z"/><path d="M550.41 79.89l2.35 2.35-2.35 2.35-2.35-2.35z"/><path d="M552.44 80.15l2.35 2.35-2.35 2.35-2.35-2.35z"/><path d="M554.47 81.45l2.35 2.35-2.35 2.35-2.35-2.35z"/><path d="M556.5 81.95l2.35 2.35-2.35 2.35-2.35-2.35z"/><path d="M558.53 82.27l2.35 2.35-2.35 2.35-2.35-2.35z"/><path d="M560.56 82.74l2.35 2.35-2.35 2.35-2.35-2.35z"/><path d="M562.59 82.74l2.35 2.35-2.35 2.35-2.35-2.35z"/><path d="M564.62 81.32l2.35 2.35-2.35 2.35-2.35-2.35z"/><path d="M566.65 78.94l2.35 2.35-2.35 2.35-2.35-2.35z"/><path d="M568.68 80.54l2.35 2.35-2.35 2.35-2.35-2.35z"/><path d="M570.71 82.22l2.35 2.35-2.35 2.35-2.35-2.35z"/><path d="M572.74 83.88l2.35 2.35-2.35 2.35-2.35-2.35z"/><path d="M574.77 85.36l2.35 2.35-2.35 2.35-2.35-2.35z"/><path d="M576.8 86.79l2.35 2.35-2.35 2.35-2.35-2.35z"/><path d="M578.83 87.58l2.35 2.35-2.35 2.35-2.35-2.35z"/><path d="M580.86 85.85l2.35 2.35-2.35 2.35-2.35-2.35z"/><path d="M582.89 86.04l2.35 2.35-2.35 2.35-2.35-2.35z"/><path d="M584.92 86.06l2.35 2.35-2.35 2.35-2.35-2.35z"/><path d="M586.95 85.44l2.35 2.35-2.35 2.35-2.35-2.35z"/><path d="M588.98 84.69l2.35 2.35-2.35 2.35-2.35-2.35z"/><path d="M591.01 83.91l2.35 2.35-2.35 2.35-2.35-2.35z"/><path d="M593.04 84.22l2.35 2.35-2.35 2.35-2.35-2.35z"/><path d="M595.07 86.2l2.35 2.35-2.35 2.35-2.35-2.35z"/><path d="M597.1 89.19l2.35 2.35-2.35 2.35-2.35-2.35z"/><path d="M599.13 89.82l2.35 2.35-2.35 2.35-2.35-2.35z"/><path d="M601.16 89.39l2.35 2.35-2.35 2.35-2.35-2.35z"/><path d="M603.19 88.08l2.35 2.35-2.35 2.35-2.35-2.35z"/><path d="M605.22 86.1l2.35 2.35-2.35 2.35-2.35-2.35z"/><path d="M607.25 84.75l2.35 2.35-2.35 2.35-2.35-2.35z"/><path d="M609.28 84.16l2.35 2.35-2.35 2.35-2.35-2.35z"/><path d="M611.31 87.93l2.35 2.35-2.35 2.35-2.35-2.35z"/><path d="M613.34 88.71l2.35 2.35-2.35 2.35-2.35-2.35z"/><path d="M615.37 89.49l2.35 2.35-2.35 2.35-2.35-2.35z"/><path d="M617.4 85.51l2.35 2.35-2.35 2.35-2.35-2.35z"/></g>
<path fill="none" stroke="#000" stroke-width="0.8" d="M455 183.3 457.03 183.28 459.06 183.25 461.09 183.23 463.12 183.2 465.15 183.18 467.18 183.16 469.21 183.13 471.24 183.11 473.27 183.09 475.3 183.06 477.33 183.04 479.36 183.01 481.39 182.99 483.42 182.97 485.45 182.09 487.48 180.36 489.51 178.9 491.54 178.03 493.57 177.26 495.6 176.15 497.63 175.42 499.66 174.9 501.69 174.66 503.72 173.67 505.75 172.58 507.78 171.04 509.81 168.5 511.84 165.98 513.87 163.34 515.9 160.82 517.93 157.88 519.96 153.36 521.99 148.25 524.02 142.07 526.05 136.62 528.08 130.74 530.11 122.67 532.14 114.35 534.17 105.34 536.2 92.4 538.23 80.72 540.26 70.4 542.29 62.33 544.32 52.82 546.35 48.27 548.38 43.08 550.41 38.22 552.44 34.29 554.47 30.98 556.5 27.83 558.53 24.69 560.56 22.1 562.59 20.14 564.62 18.52 566.65 16.89 568.68 15.37 570.71 14.29 572.74 13.63 574.77 13.26 576.8 12.94 578.83 12.78 580.86 12.62 582.89 12.46 584.92 12.29 586.95 12.13 588.98 12.03 591.01 11.92 593.04 11.82 595.07 11.71 597.1 11.61 599.13 11.47 601.16 11.33 603.19 11.2 605.22 11.06 607.25 10.92 609.28 10.81 611.31 10.71 613.34 10.61 615.37 10.5 617.4 10.4"/>
<g fill="#fff" stroke="#000" stroke-width="1.3"><rect x="452.55" y="180.85" width="4.9" height="4.9"/><rect x="454.58" y="180.83" width="4.9" height="4.9"/><rect x="456.61" y="180.8" width="4.9" height="4.9"/><rect x="458.64" y="180.78" width="4.9" height="4.9"/><rect x="460.67" y="180.75" width="4.9" height="4.9"/><rect x="462.7" y="180.73" width="4.9" height="4.9"/><rect x="464.73" y="180.71" width="4.9" height="4.9"/><rect x="466.76" y="180.68" width="4.9" height="4.9"/><rect x="468.79" y="180.66" width="4.9" height="4.9"/><rect x="470.82" y="180.64" width="4.9" height="4.9"/><rect x="472.85" y="180.61" width="4.9" height="4.9"/><rect x="474.88" y="180.59" width="4.9" height="4.9"/><rect x="476.91" y="180.56" width="4.9" height="4.9"/><rect x="478.94" y="180.54" width="4.9" height="4.9"/><rect x="480.97" y="180.52" width="4.9" height="4.9"/><rect x="483" y="179.64" width="4.9" height="4.9"/><rect x="485.03" y="177.91" width="4.9" height="4.9"/><rect x="487.06" y="176.45" width="4.9" height="4.9"/><rect x="489.09" y="175.58" width="4.9" height="4.9"/><rect x="491.12" y="174.81" width="4.9" height="4.9"/><rect x="493.15" y="173.7" width="4.9" height="4.9"/><rect x="495.18" y="172.97" width="4.9" height="4.9"/><rect x="497.21" y="172.45" width="4.9" height="4.9"/><rect x="499.24" y="172.21" width="4.9" height="4.9"/><rect x="501.27" y="171.22" width="4.9" height="4.9"/><rect x="503.3" y="170.13" width="4.9" height="4.9"/><rect x="505.33" y="168.59" width="4.9" height="4.9"/><rect x="507.36" y="166.05" width="4.9" height="4.9"/><rect x="509.39" y="163.53" width="4.9" height="4.9"/><rect x="511.42" y="160.89" width="4.9" height="4.9"/><rect x="513.45" y="158.37" width="4.9" height="4.9"/><rect x="515.48" y="155.43" width="4.9" height="4.9"/><rect x="517.51" y="150.91" width="4.9" height="4.9"/><rect x="519.54" y="145.8" width="4.9" height="4.9"/><rect x="521.57" y="139.62" width="4.9" height="4.9"/><rect x="523.6" y="134.17" width="4.9" height="4.9"/><rect x="525.63" y="128.29" width="4.9" height="4.9"/><rect x="527.66" y="120.22" width="4.9" height="4.9"/><rect x="529.69" y="111.9" width="4.9" height="4.9"/><rect x="531.72" y="102.89" width="4.9" height="4.9"/><rect x="533.75" y="89.95" width="4.9" height="4.9"/><rect x="535.78" y="78.27" width="4.9" height="4.9"/><rect x="537.81" y="67.95" width="4.9" height="4.9"/><rect x="539.84" y="59.88" width="4.9" height="4.9"/><rect x="541.87" y="50.37" width="4.9" height="4.9"/><rect x="543.9" y="45.82" width="4.9" height="4.9"/><rect x="545.93" y="40.63" width="4.9" height="4.9"/><rect x="547.96" y="35.77" width="4.9" height="4.9"/><rect x="549.99" y="31.84" width="4.9" height="4.9"/><rect x="552.02" y="28.53" width="4.9" height="4.9"/><rect x="554.05" y="25.38" width="4.9" height="4.9"/><rect x="556.08" y="22.24" width="4.9" height="4.9"/><rect x="558.11" y="19.65" width="4.9" height="4.9"/><rect x="560.14" y="17.69" width="4.9" height="4.9"/><rect x="562.17" y="16.07" width="4.9" height="4.9"/><rect x="564.2" y="14.44" width="4.9" height="4.9"/><rect x="566.23" y="12.92" width="4.9" height="4.9"/><rect x="568.26" y="11.84" width="4.9" height="4.9"/><rect x="570.29" y="11.18" width="4.9" height="4.9"/><rect x="572.32" y="10.81" width="4.9" height="4.9"/><rect x="574.35" y="10.49" width="4.9" height="4.9"/><rect x="576.38" y="10.33" width="4.9" height="4.9"/><rect x="578.41" y="10.17" width="4.9" height="4.9"/><rect x="580.44" y="10.01" width="4.9" height="4.9"/><rect x="582.47" y="9.84" width="4.9" height="4.9"/><rect x="584.5" y="9.68" width="4.9" height="4.9"/><rect x="586.53" y="9.58" width="4.9" height="4.9"/><rect x="588.56" y="9.47" width="4.9" height="4.9"/><rect x="590.59" y="9.37" width="4.9" height="4.9"/><rect x="592.62" y="9.26" width="4.9" height="4.9"/><rect x="594.65" y="9.16" width="4.9" height="4.9"/><rect x="596.68" y="9.02" width="4.9" height="4.9"/><rect x="598.71" y="8.88" width="4.9" height="4.9"/><rect x="600.74" y="8.75" width="4.9" height="4.9"/><rect x="602.77" y="8.61" width="4.9" height="4.9"/><rect x="604.8" y="8.47" width="4.9" height="4.9"/><rect x="606.83" y="8.36" width="4.9" height="4.9"/><rect x="608.86" y="8.26" width="4.9" height="4.9"/><rect x="610.89" y="8.16" width="4.9" height="4.9"/><rect x="612.92" y="8.05" width="4.9" height="4.9"/><rect x="614.95" y="7.95" width="4.9" height="4.9"/></g>
<g stroke="#000" stroke-width="1.45" fill="none" stroke-linecap="butt">
<path d="M39.3 248L37.6 433.8M37.64 429.3H202.2"/>
<path d="M32.87 415H37.77M33.25 373.25H38.15M33.64 331.5H38.54M34.02 289.75H38.92M34.4 248H39.3M78.61 429.3V433.8M119.57 429.3V433.8M160.54 429.3V433.8M201.5 429.3V433.8"/></g>
<text class="t" x="30.77" y="418.4" text-anchor="end">0</text>
<text class="t" x="31.15" y="376.65" text-anchor="end">0.25</text>
<text class="t" x="31.54" y="334.9" text-anchor="end">0.5</text>
<text class="t" x="31.92" y="293.15" text-anchor="end">0.75</text>
<text class="t" x="32.3" y="250.6" text-anchor="end">1</text>
<text class="t" x="37.64" y="444.9" text-anchor="middle">80</text>
<text class="t" x="78.61" y="444.9" text-anchor="middle">100</text>
<text class="t" x="119.57" y="444.9" text-anchor="middle">120</text>
<text class="t" x="160.54" y="444.9" text-anchor="middle">140</text>
<text class="t" x="201.5" y="444.9" text-anchor="middle">160</text>
<text class="b" x="48.4" y="266.2" style="font-size:11.2px">Front</text>
<text class="p" x="119.3" y="456.1" text-anchor="middle">Position</text>
<path fill="none" stroke="#000" stroke-width="0.8" d="M38.5 414.5 40.54 414.74 42.58 414.99 44.62 415.23 46.66 415.48 48.69 408.09 50.73 407.32 52.77 408.35 54.81 410.06 56.85 409.62 58.89 409.53 60.93 409.33 62.96 408.59 65 407.43 67.04 410.66 69.08 410.02 71.12 409.75 73.16 409.29 75.2 405.4 77.24 399.69 79.28 396.44 81.31 397.98 83.35 391.22 85.39 387.61 87.43 377.09 89.47 373.11 91.51 371.72 93.55 364.06 95.59 359.18 97.62 360.84 99.66 353.86 101.7 349.6 103.74 350.65 105.78 347.83 107.82 345.26 109.86 345.09 111.89 340.57 113.93 339.91 115.97 342.41 118.01 342.02 120.05 337.01 122.09 337.38 124.13 335.44 126.17 333.17 128.2 332.5 130.24 334.6 132.28 338.9 134.32 343.96 136.36 345.85 138.4 348.95 140.44 354.51 142.48 361.59 144.51 368.6 146.55 374.42 148.59 388.45 150.63 391.45 152.67 393.62 154.71 394.9 156.75 392.58 158.79 389.45 160.82 388.97 162.86 389.89 164.9 392.29 166.94 394.72 168.98 404.14 171.02 402.39 173.06 403.17 175.1 404.06 177.13 404.31 179.17 403.48 181.21 411.33 183.25 411.33 185.29 411.03 187.33 410.69 189.37 413.41 191.41 414.31 193.44 414.28 195.48 414.25 197.52 414.22 199.56 414.19 201.6 414.17"/>
<g fill="#fff" stroke="#000" stroke-width="1.15"><circle cx="38.5" cy="414.5" r="2.2"/><circle cx="40.54" cy="414.74" r="2.2"/><circle cx="42.58" cy="414.99" r="2.2"/><circle cx="44.62" cy="415.23" r="2.2"/><circle cx="46.66" cy="415.48" r="2.2"/><circle cx="48.69" cy="408.09" r="2.2"/><circle cx="50.73" cy="407.32" r="2.2"/><circle cx="52.77" cy="408.35" r="2.2"/><circle cx="54.81" cy="410.06" r="2.2"/><circle cx="56.85" cy="409.62" r="2.2"/><circle cx="58.89" cy="409.53" r="2.2"/><circle cx="60.93" cy="409.33" r="2.2"/><circle cx="62.96" cy="408.59" r="2.2"/><circle cx="65" cy="407.43" r="2.2"/><circle cx="67.04" cy="410.66" r="2.2"/><circle cx="69.08" cy="410.02" r="2.2"/><circle cx="71.12" cy="409.75" r="2.2"/><circle cx="73.16" cy="409.29" r="2.2"/><circle cx="75.2" cy="405.4" r="2.2"/><circle cx="77.24" cy="399.69" r="2.2"/><circle cx="79.28" cy="396.44" r="2.2"/><circle cx="81.31" cy="397.98" r="2.2"/><circle cx="83.35" cy="391.22" r="2.2"/><circle cx="85.39" cy="387.61" r="2.2"/><circle cx="87.43" cy="377.09" r="2.2"/><circle cx="89.47" cy="373.11" r="2.2"/><circle cx="91.51" cy="371.72" r="2.2"/><circle cx="93.55" cy="364.06" r="2.2"/><circle cx="95.59" cy="359.18" r="2.2"/><circle cx="97.62" cy="360.84" r="2.2"/><circle cx="99.66" cy="353.86" r="2.2"/><circle cx="101.7" cy="349.6" r="2.2"/><circle cx="103.74" cy="350.65" r="2.2"/><circle cx="105.78" cy="347.83" r="2.2"/><circle cx="107.82" cy="345.26" r="2.2"/><circle cx="109.86" cy="345.09" r="2.2"/><circle cx="111.89" cy="340.57" r="2.2"/><circle cx="113.93" cy="339.91" r="2.2"/><circle cx="115.97" cy="342.41" r="2.2"/><circle cx="118.01" cy="342.02" r="2.2"/><circle cx="120.05" cy="337.01" r="2.2"/><circle cx="122.09" cy="337.38" r="2.2"/><circle cx="124.13" cy="335.44" r="2.2"/><circle cx="126.17" cy="333.17" r="2.2"/><circle cx="128.2" cy="332.5" r="2.2"/><circle cx="130.24" cy="334.6" r="2.2"/><circle cx="132.28" cy="338.9" r="2.2"/><circle cx="134.32" cy="343.96" r="2.2"/><circle cx="136.36" cy="345.85" r="2.2"/><circle cx="138.4" cy="348.95" r="2.2"/><circle cx="140.44" cy="354.51" r="2.2"/><circle cx="142.48" cy="361.59" r="2.2"/><circle cx="144.51" cy="368.6" r="2.2"/><circle cx="146.55" cy="374.42" r="2.2"/><circle cx="148.59" cy="388.45" r="2.2"/><circle cx="150.63" cy="391.45" r="2.2"/><circle cx="152.67" cy="393.62" r="2.2"/><circle cx="154.71" cy="394.9" r="2.2"/><circle cx="156.75" cy="392.58" r="2.2"/><circle cx="158.79" cy="389.45" r="2.2"/><circle cx="160.82" cy="388.97" r="2.2"/><circle cx="162.86" cy="389.89" r="2.2"/><circle cx="164.9" cy="392.29" r="2.2"/><circle cx="166.94" cy="394.72" r="2.2"/><circle cx="168.98" cy="404.14" r="2.2"/><circle cx="171.02" cy="402.39" r="2.2"/><circle cx="173.06" cy="403.17" r="2.2"/><circle cx="175.1" cy="404.06" r="2.2"/><circle cx="177.13" cy="404.31" r="2.2"/><circle cx="179.17" cy="403.48" r="2.2"/><circle cx="181.21" cy="411.33" r="2.2"/><circle cx="183.25" cy="411.33" r="2.2"/><circle cx="185.29" cy="411.03" r="2.2"/><circle cx="187.33" cy="410.69" r="2.2"/><circle cx="189.37" cy="413.41" r="2.2"/><circle cx="191.41" cy="414.31" r="2.2"/><circle cx="193.44" cy="414.28" r="2.2"/><circle cx="195.48" cy="414.25" r="2.2"/><circle cx="197.52" cy="414.22" r="2.2"/><circle cx="199.56" cy="414.19" r="2.2"/><circle cx="201.6" cy="414.17" r="2.2"/></g>
<g stroke="#000" stroke-width="1.45" fill="none" stroke-linecap="butt">
<path d="M244.8 243.4L244.3 429.8M244.31 425.5H408.2"/>
<path d="M239.45 410.3H244.35M239.56 368.57H244.46M239.68 326.85H244.58M239.79 285.12H244.69M239.9 243.4H244.8M285.11 425.5V429.8M325.91 425.5V429.8M366.7 425.5V429.8M407.5 425.5V429.8"/></g>
<text class="t" x="237.35" y="413.7" text-anchor="end">0</text>
<text class="t" x="237.46" y="371.97" text-anchor="end">0.25</text>
<text class="t" x="237.58" y="330.25" text-anchor="end">0.5</text>
<text class="t" x="237.69" y="288.52" text-anchor="end">0.75</text>
<text class="t" x="237.8" y="246" text-anchor="end">1</text>
<text class="t" x="244.31" y="440.5" text-anchor="middle">80</text>
<text class="t" x="285.11" y="440.5" text-anchor="middle">100</text>
<text class="t" x="325.91" y="440.5" text-anchor="middle">120</text>
<text class="t" x="366.7" y="440.5" text-anchor="middle">140</text>
<text class="t" x="407.5" y="440.5" text-anchor="middle">160</text>
<text class="b" x="254" y="266">Random  2</text>
<text class="p" x="325.6" y="453.6" text-anchor="middle">Position</text>
<path fill="none" stroke="#000" stroke-width="0.8" d="M244.3 407.13 246.34 407.15 248.37 407.38 250.41 406.96 252.45 407.86 254.48 408.67 256.52 408.05 258.55 405.94 260.59 408.76 262.63 408.34 264.66 406.93 266.7 404.53 268.74 405.04 270.77 406.05 272.81 407.46 274.84 396.95 276.88 400.54 278.92 392.17 280.95 389.52 282.99 387.2 285.02 386.5 287.06 379.37 289.1 382.19 291.13 382.13 293.17 370.08 295.21 371.1 297.24 370.69 299.28 369.46 301.31 367.75 303.35 364.56 305.39 361.46 307.42 357.67 309.46 354.52 311.5 350.1 313.53 349.9 315.57 350.42 317.61 348.86 319.64 344.27 321.68 344.03 323.71 339.81 325.75 337.53 327.79 340.24 329.82 343.04 331.86 342.47 333.89 346.79 335.93 349.38 337.97 352.95 340 358.6 342.04 364.92 344.08 370.83 346.11 367.06 348.15 372.17 350.19 377.02 352.22 380.3 354.26 377.01 356.29 381.26 358.33 381.26 360.37 380.51 362.4 378 364.44 383.93 366.48 383.93 368.51 383.93 370.55 387.53 372.58 391.4 374.62 394.78 376.66 402.77 378.69 401.62 380.73 398.28 382.76 401.36 384.8 402.29 386.84 401.98 388.87 398.9 390.91 400.75 392.95 403.77 394.98 404.25 397.02 403.07 399.05 404.74 401.09 406.03 403.13 405.72 405.16 406.43 407.2 407.46"/>
<g fill="#fff" stroke="#000" stroke-width="1.15"><circle cx="244.3" cy="407.13" r="2.2"/><circle cx="246.34" cy="407.15" r="2.2"/><circle cx="248.37" cy="407.38" r="2.2"/><circle cx="250.41" cy="406.96" r="2.2"/><circle cx="252.45" cy="407.86" r="2.2"/><circle cx="254.48" cy="408.67" r="2.2"/><circle cx="256.52" cy="408.05" r="2.2"/><circle cx="258.55" cy="405.94" r="2.2"/><circle cx="260.59" cy="408.76" r="2.2"/><circle cx="262.63" cy="408.34" r="2.2"/><circle cx="264.66" cy="406.93" r="2.2"/><circle cx="266.7" cy="404.53" r="2.2"/><circle cx="268.74" cy="405.04" r="2.2"/><circle cx="270.77" cy="406.05" r="2.2"/><circle cx="272.81" cy="407.46" r="2.2"/><circle cx="274.84" cy="396.95" r="2.2"/><circle cx="276.88" cy="400.54" r="2.2"/><circle cx="278.92" cy="392.17" r="2.2"/><circle cx="280.95" cy="389.52" r="2.2"/><circle cx="282.99" cy="387.2" r="2.2"/><circle cx="285.02" cy="386.5" r="2.2"/><circle cx="287.06" cy="379.37" r="2.2"/><circle cx="289.1" cy="382.19" r="2.2"/><circle cx="291.13" cy="382.13" r="2.2"/><circle cx="293.17" cy="370.08" r="2.2"/><circle cx="295.21" cy="371.1" r="2.2"/><circle cx="297.24" cy="370.69" r="2.2"/><circle cx="299.28" cy="369.46" r="2.2"/><circle cx="301.31" cy="367.75" r="2.2"/><circle cx="303.35" cy="364.56" r="2.2"/><circle cx="305.39" cy="361.46" r="2.2"/><circle cx="307.42" cy="357.67" r="2.2"/><circle cx="309.46" cy="354.52" r="2.2"/><circle cx="311.5" cy="350.1" r="2.2"/><circle cx="313.53" cy="349.9" r="2.2"/><circle cx="315.57" cy="350.42" r="2.2"/><circle cx="317.61" cy="348.86" r="2.2"/><circle cx="319.64" cy="344.27" r="2.2"/><circle cx="321.68" cy="344.03" r="2.2"/><circle cx="323.71" cy="339.81" r="2.2"/><circle cx="325.75" cy="337.53" r="2.2"/><circle cx="327.79" cy="340.24" r="2.2"/><circle cx="329.82" cy="343.04" r="2.2"/><circle cx="331.86" cy="342.47" r="2.2"/><circle cx="333.89" cy="346.79" r="2.2"/><circle cx="335.93" cy="349.38" r="2.2"/><circle cx="337.97" cy="352.95" r="2.2"/><circle cx="340" cy="358.6" r="2.2"/><circle cx="342.04" cy="364.92" r="2.2"/><circle cx="344.08" cy="370.83" r="2.2"/><circle cx="346.11" cy="367.06" r="2.2"/><circle cx="348.15" cy="372.17" r="2.2"/><circle cx="350.19" cy="377.02" r="2.2"/><circle cx="352.22" cy="380.3" r="2.2"/><circle cx="354.26" cy="377.01" r="2.2"/><circle cx="356.29" cy="381.26" r="2.2"/><circle cx="358.33" cy="381.26" r="2.2"/><circle cx="360.37" cy="380.51" r="2.2"/><circle cx="362.4" cy="378" r="2.2"/><circle cx="364.44" cy="383.93" r="2.2"/><circle cx="366.48" cy="383.93" r="2.2"/><circle cx="368.51" cy="383.93" r="2.2"/><circle cx="370.55" cy="387.53" r="2.2"/><circle cx="372.58" cy="391.4" r="2.2"/><circle cx="374.62" cy="394.78" r="2.2"/><circle cx="376.66" cy="402.77" r="2.2"/><circle cx="378.69" cy="401.62" r="2.2"/><circle cx="380.73" cy="398.28" r="2.2"/><circle cx="382.76" cy="401.36" r="2.2"/><circle cx="384.8" cy="402.29" r="2.2"/><circle cx="386.84" cy="401.98" r="2.2"/><circle cx="388.87" cy="398.9" r="2.2"/><circle cx="390.91" cy="400.75" r="2.2"/><circle cx="392.95" cy="403.77" r="2.2"/><circle cx="394.98" cy="404.25" r="2.2"/><circle cx="397.02" cy="403.07" r="2.2"/><circle cx="399.05" cy="404.74" r="2.2"/><circle cx="401.09" cy="406.03" r="2.2"/><circle cx="403.13" cy="405.72" r="2.2"/><circle cx="405.16" cy="406.43" r="2.2"/><circle cx="407.2" cy="407.46" r="2.2"/></g>
<g stroke="#000" stroke-width="1.45" fill="none" stroke-linecap="butt">
<path d="M454.8 243.4L454.5 430.8M454.51 426.3H617.1"/>
<path d="M449.63 410.8H454.53M449.7 368.95H454.6M449.77 327.1H454.67M449.83 285.25H454.73M449.9 243.4H454.8M494.98 426.3V430.8M535.45 426.3V430.8M575.93 426.3V430.8M616.4 426.3V430.8"/></g>
<text class="t" x="447.53" y="414.2" text-anchor="end">0</text>
<text class="t" x="447.6" y="372.35" text-anchor="end">0.25</text>
<text class="t" x="447.67" y="330.5" text-anchor="end">0.5</text>
<text class="t" x="447.73" y="288.65" text-anchor="end">0.75</text>
<text class="t" x="447.8" y="246" text-anchor="end">1</text>
<text class="t" x="454.51" y="441.3" text-anchor="middle">80</text>
<text class="t" x="494.98" y="441.3" text-anchor="middle">100</text>
<text class="t" x="535.45" y="441.3" text-anchor="middle">120</text>
<text class="t" x="575.93" y="441.3" text-anchor="middle">140</text>
<text class="t" x="616.4" y="441.3" text-anchor="middle">160</text>
<text class="b" x="462" y="265.6">Random  16</text>
<text class="p" x="534.8" y="454.2" text-anchor="middle">Position</text>
<path fill="none" stroke="#000" stroke-width="0.8" d="M454.6 407.25 456.62 407.6 458.65 408.96 460.67 409.89 462.7 411.13 464.72 411.39 466.74 410.69 468.77 410.47 470.79 410.23 472.81 409.23 474.84 409.45 476.86 410.59 478.88 411.87 480.91 413.46 482.93 414.13 484.96 414.19 486.98 416.66 489 416.7 491.03 417.07 493.05 415.18 495.08 410.75 497.1 407.87 499.12 406.74 501.15 406.04 503.17 402.93 505.19 405.11 507.22 407.09 509.24 409.07 511.26 410.92 513.29 411.19 515.31 410.8 517.34 417.4 519.36 415.43 521.38 413.51 523.41 412.4 525.43 413.29 527.46 413.24 529.48 412.33 531.5 412.53 533.53 417.08 535.55 414.63 537.57 416.2 539.6 419.21 541.62 419.33 543.64 419.78 545.67 419.77 547.69 417.74 549.72 415.72 551.74 414.82 553.76 416.49 555.79 418.85 557.81 423.49 559.84 425.73 561.86 424.39 563.88 422.28 565.91 420.05 567.93 419.46 569.95 418.57 571.98 417.38 574 415.82 576.02 413.48 578.05 411.53 580.07 409.97 582.1 408.42 584.12 406.11 586.14 404.71 588.17 406.16 590.19 408.3 592.22 410.41 594.24 412.31 596.26 412.78 598.29 411.76 600.31 409.92 602.33 408.84 604.36 408.24 606.38 408.36 608.4 409.36 610.43 408.49 612.45 407.95 614.48 408.09 616.5 409.46"/>
<g fill="#fff" stroke="#000" stroke-width="1.15"><circle cx="454.6" cy="407.25" r="2.2"/><circle cx="456.62" cy="407.6" r="2.2"/><circle cx="458.65" cy="408.96" r="2.2"/><circle cx="460.67" cy="409.89" r="2.2"/><circle cx="462.7" cy="411.13" r="2.2"/><circle cx="464.72" cy="411.39" r="2.2"/><circle cx="466.74" cy="410.69" r="2.2"/><circle cx="468.77" cy="410.47" r="2.2"/><circle cx="470.79" cy="410.23" r="2.2"/><circle cx="472.81" cy="409.23" r="2.2"/><circle cx="474.84" cy="409.45" r="2.2"/><circle cx="476.86" cy="410.59" r="2.2"/><circle cx="478.88" cy="411.87" r="2.2"/><circle cx="480.91" cy="413.46" r="2.2"/><circle cx="482.93" cy="414.13" r="2.2"/><circle cx="484.96" cy="414.19" r="2.2"/><circle cx="486.98" cy="416.66" r="2.2"/><circle cx="489" cy="416.7" r="2.2"/><circle cx="491.03" cy="417.07" r="2.2"/><circle cx="493.05" cy="415.18" r="2.2"/><circle cx="495.08" cy="410.75" r="2.2"/><circle cx="497.1" cy="407.87" r="2.2"/><circle cx="499.12" cy="406.74" r="2.2"/><circle cx="501.15" cy="406.04" r="2.2"/><circle cx="503.17" cy="402.93" r="2.2"/><circle cx="505.19" cy="405.11" r="2.2"/><circle cx="507.22" cy="407.09" r="2.2"/><circle cx="509.24" cy="409.07" r="2.2"/><circle cx="511.26" cy="410.92" r="2.2"/><circle cx="513.29" cy="411.19" r="2.2"/><circle cx="515.31" cy="410.8" r="2.2"/><circle cx="517.34" cy="417.4" r="2.2"/><circle cx="519.36" cy="415.43" r="2.2"/><circle cx="521.38" cy="413.51" r="2.2"/><circle cx="523.41" cy="412.4" r="2.2"/><circle cx="525.43" cy="413.29" r="2.2"/><circle cx="527.46" cy="413.24" r="2.2"/><circle cx="529.48" cy="412.33" r="2.2"/><circle cx="531.5" cy="412.53" r="2.2"/><circle cx="533.53" cy="417.08" r="2.2"/><circle cx="535.55" cy="414.63" r="2.2"/><circle cx="537.57" cy="416.2" r="2.2"/><circle cx="539.6" cy="419.21" r="2.2"/><circle cx="541.62" cy="419.33" r="2.2"/><circle cx="543.64" cy="419.78" r="2.2"/><circle cx="545.67" cy="419.77" r="2.2"/><circle cx="547.69" cy="417.74" r="2.2"/><circle cx="549.72" cy="415.72" r="2.2"/><circle cx="551.74" cy="414.82" r="2.2"/><circle cx="553.76" cy="416.49" r="2.2"/><circle cx="555.79" cy="418.85" r="2.2"/><circle cx="557.81" cy="423.49" r="2.2"/><circle cx="559.84" cy="425.73" r="2.2"/><circle cx="561.86" cy="424.39" r="2.2"/><circle cx="563.88" cy="422.28" r="2.2"/><circle cx="565.91" cy="420.05" r="2.2"/><circle cx="567.93" cy="419.46" r="2.2"/><circle cx="569.95" cy="418.57" r="2.2"/><circle cx="571.98" cy="417.38" r="2.2"/><circle cx="574" cy="415.82" r="2.2"/><circle cx="576.02" cy="413.48" r="2.2"/><circle cx="578.05" cy="411.53" r="2.2"/><circle cx="580.07" cy="409.97" r="2.2"/><circle cx="582.1" cy="408.42" r="2.2"/><circle cx="584.12" cy="406.11" r="2.2"/><circle cx="586.14" cy="404.71" r="2.2"/><circle cx="588.17" cy="406.16" r="2.2"/><circle cx="590.19" cy="408.3" r="2.2"/><circle cx="592.22" cy="410.41" r="2.2"/><circle cx="594.24" cy="412.31" r="2.2"/><circle cx="596.26" cy="412.78" r="2.2"/><circle cx="598.29" cy="411.76" r="2.2"/><circle cx="600.31" cy="409.92" r="2.2"/><circle cx="602.33" cy="408.84" r="2.2"/><circle cx="604.36" cy="408.24" r="2.2"/><circle cx="606.38" cy="408.36" r="2.2"/><circle cx="608.4" cy="409.36" r="2.2"/><circle cx="610.43" cy="408.49" r="2.2"/><circle cx="612.45" cy="407.95" r="2.2"/><circle cx="614.48" cy="408.09" r="2.2"/><circle cx="616.5" cy="409.46" r="2.2"/></g>
<text class="t" transform="translate(11.5 134) rotate(-90)">Allele Frequency</text>
<text class="t" transform="translate(9 415) rotate(-90)">Normalized Disequilibrium Coefficient</text>
</svg></body></html>
